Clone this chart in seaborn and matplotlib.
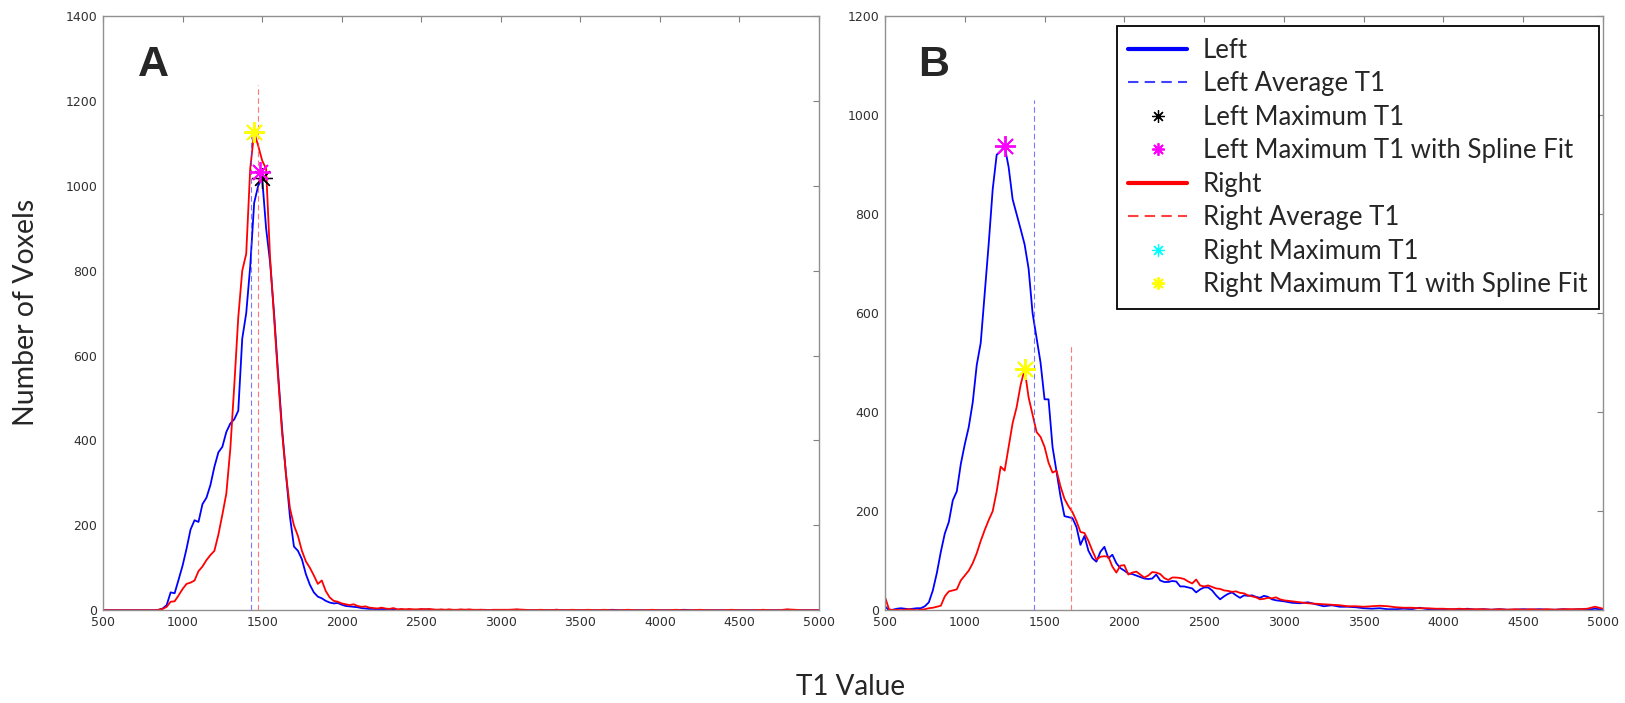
import numpy as np
import matplotlib
matplotlib.use("Agg")
import matplotlib.pyplot as plt
import seaborn as sns

# bin centres of the T1 histograms (finer bins where the counts are)
t1 = np.concatenate([np.arange(500, 3001, 25), np.arange(3050, 5001, 50)])

# panel A
left_a = [0, 0, 0, 0, 0, 0, 0, 0, 0, 0,
          0, 0, 0, 0, 1, 4, 12, 42, 40, 72,
          105, 145, 190, 212, 208, 250, 265, 295, 338, 372,
          385, 420, 440, 450, 470, 640, 700, 810, 960, 1000,
          1019, 900, 820, 700, 560, 430, 320, 220, 150, 140,
          120, 85, 60, 42, 32, 28, 22, 18, 16, 17,
          13, 10, 9, 8, 7, 5, 4, 3, 3, 2,
          3, 2, 1, 2, 1, 1, 1, 0, 1, 0,
          1, 2, 1, 0, 1, 0, 0, 1, 0, 0,
          0, 1, 0, 0, 0, 1, 0, 0, 0, 0,
          0,
          0, 1, 0, 0, 0, 0, 1, 0, 0, 0,
          0, 0, 0, 1, 0, 0, 0, 0, 0, 0,
          0, 0, 1, 0, 0, 0, 0, 0, 0, 0,
          0, 0, 0, 0, 0, 1, 0, 0, 0, 0]
right_a = [0, 0, 0, 0, 0, 0, 0, 0, 0, 0,
           0, 0, 0, 0, 1, 3, 8, 20, 21, 35,
           50, 62, 65, 70, 92, 103, 118, 130, 140, 178,
           225, 275, 380, 530, 690, 800, 840, 1040, 1126, 1095,
           1060, 1040, 830, 690, 550, 420, 320, 240, 200, 175,
           140, 115, 100, 82, 62, 70, 45, 30, 22, 20,
           16, 14, 12, 14, 10, 8, 9, 6, 5, 4,
           6, 4, 3, 5, 2, 3, 2, 3, 2, 2,
           3, 2, 3, 2, 1, 2, 1, 2, 1, 1,
           2, 1, 2, 1, 1, 1, 1, 0, 1, 1,
           1,
           1, 2, 1, 0, 1, 0, 1, 0, 1, 0,
           1, 0, 1, 0, 0, 1, 0, 0, 1, 0,
           0, 1, 0, 0, 1, 0, 0, 0, 1, 0,
           0, 0, 1, 0, 0, 2, 1, 0, 0, 0]

# panel B
left_b = [8, 0, 1, 3, 4, 3, 2, 3, 4, 4,
          8, 16, 40, 75, 118, 155, 178, 222, 240, 295,
          335, 370, 420, 495, 540, 640, 740, 850, 920, 928,
          937, 895, 830, 800, 770, 739, 690, 600, 550, 500,
          426, 426, 330, 280, 230, 190, 188, 186, 168, 132,
          150, 120, 105, 98, 118, 128, 105, 112, 95, 85,
          80, 74, 73, 70, 67, 64, 63, 64, 72, 60,
          57, 57, 59, 58, 48, 48, 46, 44, 36, 42,
          46, 46, 40, 30, 22, 28, 33, 36, 30, 25,
          30, 29, 30, 27, 25, 29, 27, 22, 20, 19,
          18,
          15, 14, 16, 12, 8, 10, 7, 7, 6, 4,
          3, 4, 2, 2, 3, 2, 5, 2, 2, 1,
          2, 1, 3, 1, 2, 1, 2, 1, 1, 2,
          1, 2, 1, 1, 2, 1, 2, 1, 3, 1]
right_b = [27, 2, 0, 1, 0, 1, 2, 1, 0, 1,
           2, 4, 5, 7, 9, 28, 38, 40, 42, 60,
           70, 80, 95, 115, 140, 162, 182, 200, 240, 290,
           282, 330, 378, 410, 455, 487, 430, 395, 360, 350,
           330, 298, 278, 282, 250, 225, 210, 198, 180, 158,
           156, 140, 120, 102, 108, 109, 108, 88, 76, 90,
           91, 72, 76, 78, 72, 66, 70, 77, 76, 73,
           65, 61, 66, 66, 65, 63, 58, 54, 62, 50,
           48, 50, 47, 44, 43, 40, 39, 37, 38, 35,
           34, 30, 28, 26, 22, 23, 25, 24, 26, 22,
           20,
           18, 16, 14, 13, 12, 11, 10, 8, 8, 7,
           8, 9, 8, 6, 5, 5, 4, 4, 3, 3,
           2, 3, 2, 2, 2, 1, 2, 1, 2, 1,
           2, 1, 2, 1, 2, 2, 2, 3, 7, 3]

# average T1 and maxima (raw and spline fit), (x, y)
avg_a = {"Left": 1430, "Right": 1475}
avg_b = {"Left": 1435, "Right": 1665}
max_a = {"Left": (1500, 1019), "Left spline": (1485, 1032),
         "Right": (1450, 1126), "Right spline": (1450, 1126)}
max_b = {"Left": (1250, 937), "Left spline": (1255, 938),
         "Right": (1375, 487), "Right spline": (1375, 488)}

x_ticks = [500, 1000, 1500, 2000, 2500, 3000, 3500, 4000, 4500, 5000]
y_ticks_a = [0, 200, 400, 600, 800, 1000, 1200, 1400]
y_ticks_b = [0, 200, 400, 600, 800, 1000, 1200]

sns.set_style("white")
plt.rcParams['font.family'] = ['DejaVu Sans']

fig = plt.figure(figsize=(16.25, 7.03), dpi=100)
ax_a = fig.add_axes([0.0634, 0.132, 0.4406, 0.845])
ax_b = fig.add_axes([0.5446, 0.132, 0.4419, 0.845])

star = (8, 2, 0)


def panel(ax, left, right, avg, mx, yticks, letter, letter_x):
    sns.lineplot(x=t1, y=left, ax=ax, color='#0000ff', linewidth=1.3,
                 label='Left', legend=False, estimator=None)
    sns.lineplot(x=t1, y=right, ax=ax, color='#ff0000', linewidth=1.3,
                 label='Right', legend=False, estimator=None)
    ax.plot([avg["Left"]] * 2, [0, 1.1 * max(left)], ls=(0, (5, 3)),
            color='#4040ff', lw=0.8, alpha=0.7, label='Left Average T1')
    ax.plot([avg["Right"]] * 2, [0, 1.1 * max(right)], ls=(0, (5, 3)),
            color='#ff4040', lw=0.8, alpha=0.7, label='Right Average T1')
    ax.plot(*mx["Left"], marker=star, ms=15, mec='black', mew=0.9,
            ls='none', label='Left Maximum T1')
    ax.plot(*mx["Left spline"], marker=star, ms=15, mec='#ff00ff', mew=1.3,
            ls='none', label='Left Maximum T1 with Spline Fit')
    ax.plot(*mx["Right"], marker=star, ms=15, mec='#00ffff', mew=0.9,
            ls='none', label='Right Maximum T1')
    ax.plot(*mx["Right spline"], marker=star, ms=15, mec='#ffff00', mew=1.4,
            ls='none', label='Right Maximum T1 with Spline Fit')

    ax.set_xlim(500, 5000)
    ax.set_ylim(0, yticks[-1])
    ax.set_xticks(x_ticks)
    ax.set_yticks(yticks)
    ax.set_xlabel('')
    ax.set_ylabel('')
    ax.tick_params(direction='in', length=4, color='#808080', top=True,
                   right=True, labelsize=9, labelcolor='#303030', pad=4)
    for s in ax.spines.values():
        s.set_color('#909090')
        s.set_linewidth(1)
    ax.text(letter_x, 0.951, letter, transform=ax.transAxes, ha='left',
            va='top', fontsize=31, fontweight='bold',
            family=['Liberation Sans', 'DejaVu Sans'])


panel(ax_a, left_a, right_a, avg_a, max_a, y_ticks_a, 'A', 0.049)
panel(ax_b, left_b, right_b, avg_b, max_b, y_ticks_b, 'B', 0.046)

# legend only in panel B
handles, labels = ax_b.get_legend_handles_labels()
order = ['Left', 'Left Average T1', 'Left Maximum T1',
         'Left Maximum T1 with Spline Fit', 'Right', 'Right Average T1',
         'Right Maximum T1', 'Right Maximum T1 with Spline Fit']
lookup = dict(zip(labels, handles))
leg = ax_b.legend([lookup[k] for k in order], order, loc='upper right',
                  bbox_to_anchor=(0.994, 0.983), borderaxespad=0,
                  fancybox=False, framealpha=1, edgecolor='black',
                  handlelength=2.3, handletextpad=0.6, borderpad=0.45,
                  labelspacing=0.33, markerscale=0.6,
                  prop={'family': ['Lato', 'DejaVu Sans'], 'size': 18.5})
leg.get_frame().set_linewidth(1.3)
for ln in leg.get_lines():
    if ln.get_linestyle() == '-':
        ln.set_linewidth(3)
    elif ln.get_linestyle() != 'None':
        ln.set_linewidth(1.5)
        ln.set_alpha(1)

fig.text(0.016, 0.555, 'Number of Voxels', rotation=90, ha='center',
         va='center', fontsize=20.5, family=['Lato', 'DejaVu Sans'])
fig.text(0.5237, 0.023, 'T1 Value', ha='center', va='center', fontsize=20,
         family=['Lato', 'DejaVu Sans'])

fig.savefig('out.png', dpi=100)
